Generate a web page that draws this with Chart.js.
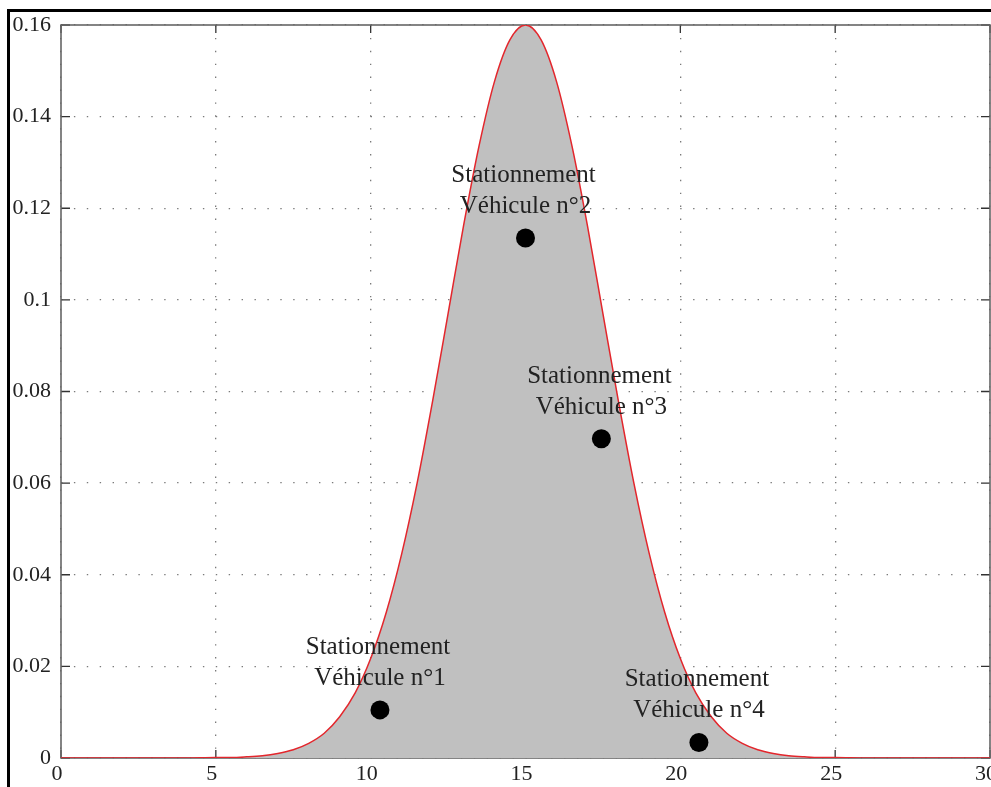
<!DOCTYPE html>
<html>
<head>
<meta charset="utf-8">
<script src="https://cdn.jsdelivr.net/npm/chart.js@4/dist/chart.umd.min.js"></script>
<style>
  html, body { margin: 0; padding: 0; background: #fff; }
  #wrap { width: 991px; height: 787px; position: relative; }
</style>
</head>
<body>
<div id="wrap"><canvas id="myChart" width="991" height="787"></canvas></div>
<script>
// curve (x, density)
const densityX = [0, 2, 4, 5, 5.5, 6, 6.5, 7, 7.5, 8, 8.5, 9, 9.5, 10, 10.5, 11, 11.5, 12, 12.5, 13, 13.5, 14, 14.5,
  15, 15.5, 16, 16.5, 17, 17.5, 18, 18.5, 19, 19.5, 20, 20.5, 21, 21.5, 22, 22.5, 23, 23.5, 24, 24.5, 25, 26, 28, 30];
const densityY = [0, 0, 0, 0.0001, 0.0001, 0.00025, 0.0005, 0.001, 0.0018, 0.0032, 0.0054, 0.009, 0.0142, 0.0217, 0.0317, 0.0445, 0.060, 0.0779, 0.097, 0.1162, 0.1336, 0.1477, 0.1568,
  0.16, 0.1568, 0.1477, 0.1336, 0.1162, 0.097, 0.0779, 0.060, 0.0445, 0.0317, 0.0217, 0.0142, 0.009, 0.0054, 0.0032, 0.0018, 0.001, 0.0005, 0.00025, 0.0001, 0.0001, 0, 0, 0];

// parked vehicles
const parkX = [10.3, 15.0, 17.45, 20.6];
const parkY = [0.0105, 0.1135, 0.0697, 0.0034];
const parkNames = ['Véhicule n°1', 'Véhicule n°2', 'Véhicule n°3', 'Véhicule n°4'];
const parkTitle = 'Stationnement';

const serif = '"Liberation Serif", "DejaVu Serif", serif';

const ctx = document.getElementById('myChart').getContext('2d');

// plot box, inward ticks, outer black frame
const frame = {
  id: 'frame',
  beforeDatasetsDraw(chart) {
    const { ctx, chartArea: a, scales } = chart;
    ctx.save();
    ctx.strokeStyle = '#333';
    ctx.lineWidth = 1.3;
    ctx.beginPath();
    scales.x.ticks.forEach(t => {
      const px = scales.x.getPixelForValue(t.value);
      ctx.moveTo(px, a.bottom); ctx.lineTo(px, a.bottom - 8);
      ctx.moveTo(px, a.top); ctx.lineTo(px, a.top + 8);
    });
    scales.y.ticks.forEach(t => {
      const py = scales.y.getPixelForValue(t.value);
      ctx.moveTo(a.left, py); ctx.lineTo(a.left + 9, py);
      ctx.moveTo(a.right, py); ctx.lineTo(a.right - 9, py);
    });
    ctx.stroke();
    ctx.strokeStyle = '#666';
    ctx.lineWidth = 1.6;
    ctx.strokeRect(a.left, a.top, a.right - a.left, a.bottom - a.top);
    ctx.restore();
  },
  afterDraw(chart) {
    const { ctx } = chart;
    ctx.save();
    ctx.fillStyle = '#000';
    ctx.fillRect(7, 9, 984, 3);
    ctx.fillRect(7, 9, 3, 778);
    ctx.restore();
  }
};

// text above each parked vehicle
const parkLabels = {
  id: 'parkLabels',
  afterDatasetsDraw(chart) {
    const { ctx } = chart;
    const meta = chart.getDatasetMeta(1);
    ctx.save();
    ctx.font = '25px ' + serif;
    ctx.fillStyle = '#222';
    ctx.textAlign = 'center';
    ctx.textBaseline = 'alphabetic';
    meta.data.forEach((pt, i) => {
      ctx.fillText(parkTitle, pt.x - 2, pt.y - 56);
      ctx.fillText(parkNames[i], pt.x, pt.y - 25);
    });
    ctx.restore();
  }
};

const data = {
  datasets: [
    {
      data: densityX.map((x, i) => ({ x, y: densityY[i] })),
      showLine: true,
      fill: 'origin',
      backgroundColor: '#c0c0c0',
      borderColor: '#e3262c',
      borderWidth: 1.5,
      pointRadius: 0,
      cubicInterpolationMode: 'monotone',
      order: 2,
    },
    {
      data: parkX.map((x, i) => ({ x, y: parkY[i] })),
      showLine: false,
      pointRadius: 9.5,
      backgroundColor: '#000',
      borderColor: '#000',
      pointBackgroundColor: '#000',
      pointBorderColor: '#000',
      pointBorderWidth: 0,
      order: 1,
    },
  ],
};

const gridDots = { color: '#7a7a7a', lineWidth: 1.3, drawTicks: false };

const config = {
  type: 'scatter',
  data: data,
  options: {
    responsive: false,
    animation: false,
    layout: { autoPadding: false, padding: { top: 25, right: 1, left: 0, bottom: 0 } },
    plugins: { legend: { display: false }, tooltip: { enabled: false } },
    scales: {
      x: {
        type: 'linear',
        min: 0,
        max: 30,
        grid: gridDots,
        border: { display: false, dash: [1.4, 11.5] },
        ticks: {
          stepSize: 5,
          autoSkip: false,
          maxRotation: 0,
          padding: 3,
          labelOffset: -4,
          color: '#222',
          font: { family: serif, size: 22 },
        },
        afterFit: s => { s.height = 29; s.paddingLeft = 0; s.paddingRight = 0; },
      },
      y: {
        min: 0,
        max: 0.16,
        grid: gridDots,
        border: { display: false, dash: [1.4, 11.5] },
        ticks: {
          stepSize: 0.02,
          padding: 10,
          color: '#222',
          font: { family: serif, size: 22 },
          callback: v => String(+v.toFixed(2)),
        },
        afterFit: s => { s.width = 61; s.paddingTop = 0; s.paddingBottom = 0; },
      },
    },
  },
  plugins: [frame, parkLabels],
};

const myChart = new Chart(ctx, config);
</script>
</body>
</html>
